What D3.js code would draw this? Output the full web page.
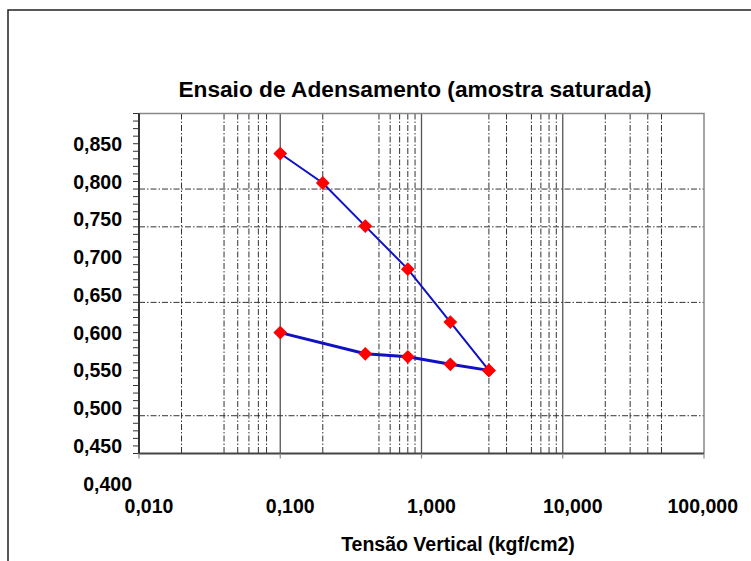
<!DOCTYPE html>
<html>
<head>
<meta charset="utf-8">
<script src="https://cdn.jsdelivr.net/npm/d3@7"></script>
<style>
  body { margin: 0; background: #fff; }
  svg { display: block; font-family: "Liberation Sans", Arial, sans-serif; font-weight: bold; }
</style>
</head>
<body>
<svg id="chart" width="751" height="561"></svg>
<script>
// tensao vertical (kgf/cm2) and indice de vazios
var loadX = [0.1, 0.2, 0.4, 0.8, 1.6, 3.0];
var loadE = [0.837, 0.798, 0.741, 0.684, 0.614, 0.550];
var unloadX = [3.0, 1.6, 0.8, 0.4, 0.1];
var unloadE = [0.550, 0.558, 0.568, 0.572, 0.600];

var yLabels = [0.40, 0.45, 0.50, 0.55, 0.60, 0.65, 0.70, 0.75, 0.80, 0.85];
var xLabels = [0.01, 0.1, 1, 10, 100];
var xMajorGrid = [0.1, 1, 10];
var xMinorGrid = [0.02, 0.04, 0.05, 0.06, 0.07, 0.08, 0.2, 0.5, 0.6, 0.7, 0.8, 0.9, 3, 4, 6, 7, 8, 9, 20, 30, 40, 50];
var yGrid = [0.49, 0.64, 0.74, 0.79];

var svg = d3.select("#chart");
var pLeft = 139, pRight = 704, pTop = 113.5, pBottom = 453.5;

var x = d3.scaleLog().domain([0.01, 100]).range([pLeft, pRight]);
var y = d3.scaleLinear().domain([0.44, 0.89]).range([pBottom, pTop]);

function fmt(v, d) { return v.toFixed(d).replace(".", ","); }

// outer frame (only top and left edges show)
svg.append("path")
    .attr("d", "M8,561 L8,10 L751,10")
    .attr("fill", "none").attr("stroke", "#222").attr("stroke-width", 1.5);

// title
svg.append("text")
    .attr("x", 415).attr("y", 97)
    .attr("text-anchor", "middle")
    .style("font-size", "22.7px")
    .text("Ensaio de Adensamento (amostra saturada)");

// grid
var grid = svg.append("g");
grid.selectAll(".minor").data(xMinorGrid).enter().append("line")
    .attr("x1", function(d) { return x(d); }).attr("x2", function(d) { return x(d); })
    .attr("y1", pTop).attr("y2", pBottom)
    .attr("stroke", "#333").attr("stroke-width", 1)
    .attr("stroke-dasharray", "6,2,1.5,2");
grid.selectAll(".major").data(xMajorGrid).enter().append("line")
    .attr("x1", function(d) { return x(d); }).attr("x2", function(d) { return x(d); })
    .attr("y1", pTop).attr("y2", pBottom)
    .attr("stroke", "#555").attr("stroke-width", 1.3);
grid.selectAll(".hgrid").data(yGrid).enter().append("line")
    .attr("x1", pLeft).attr("x2", pRight)
    .attr("y1", function(d) { return y(d); }).attr("y2", function(d) { return y(d); })
    .attr("stroke", "#333").attr("stroke-width", 1)
    .attr("stroke-dasharray", "6,2,1.5,2");

// plot border
svg.append("path")
    .attr("d", "M" + pLeft + "," + pTop + " L" + pRight + "," + pTop + " L" + pRight + "," + pBottom)
    .attr("fill", "none").attr("stroke", "#888").attr("stroke-width", 1.5);
svg.append("line")
    .attr("x1", pLeft).attr("x2", pRight).attr("y1", pBottom).attr("y2", pBottom)
    .attr("stroke", "#444").attr("stroke-width", 2);
svg.append("line")
    .attr("x1", pLeft).attr("x2", pLeft).attr("y1", pTop).attr("y2", pBottom)
    .attr("stroke", "#333").attr("stroke-width", 2);

// y ticks every 0,01
svg.append("g").selectAll("line").data(d3.range(44, 90).map(function(i) { return i / 100; }))
    .enter().append("line")
    .attr("x1", pLeft - 6).attr("x2", pLeft)
    .attr("y1", function(d) { return y(d); }).attr("y2", function(d) { return y(d); })
    .attr("stroke", "#333").attr("stroke-width", 1);

// x ticks at decades
svg.append("g").selectAll("line").data(xLabels).enter().append("line")
    .attr("x1", function(d) { return x(d); }).attr("x2", function(d) { return x(d); })
    .attr("y1", pBottom).attr("y2", pBottom + 5)
    .attr("stroke", "#888").attr("stroke-width", 1.2);

// y labels
svg.append("g").selectAll("text").data(yLabels).enter().append("text")
    .attr("x", function(d) { return d < 0.44 ? 132 : 122; })
    .attr("y", function(d) { return y(d) + 7; })
    .attr("text-anchor", "end")
    .style("font-size", "19.5px")
    .text(function(d) { return fmt(d, 3); });

// x labels
svg.append("g").selectAll("text").data(xLabels).enter().append("text")
    .attr("y", 513)
    .attr("text-anchor", "middle")
    .style("font-size", "19.5px")
    .text(function(d) { return fmt(d, 3); })
    .attr("x", function(d) {
        var w = this.getComputedTextLength();
        return Math.min(x(d) + 10, 738 - w / 2);
    });

// axis title
svg.append("text")
    .attr("x", 458).attr("y", 551)
    .attr("text-anchor", "middle")
    .style("font-size", "19.5px")
    .text("Tensão Vertical (kgf/cm2)");

// series
var line = d3.line()
    .x(function(d) { return x(d[0]); })
    .y(function(d) { return y(d[1]); });

var loadPts = d3.zip(loadX, loadE);
var unloadPts = d3.zip(unloadX, unloadE);

svg.append("path").datum(loadPts)
    .attr("d", line).attr("fill", "none")
    .attr("stroke", "#1010c4").attr("stroke-width", 2);
svg.append("path").datum(unloadPts)
    .attr("d", line).attr("fill", "none")
    .attr("stroke", "#1010c4").attr("stroke-width", 3);

var diamond = d3.symbol().type(d3.symbolSquare).size(95);
svg.append("g").selectAll("path").data(loadPts.concat(unloadPts)).enter().append("path")
    .attr("d", diamond)
    .attr("transform", function(d) { return "translate(" + x(d[0]) + "," + y(d[1]) + ") rotate(45)"; })
    .attr("fill", "#ff0000");
</script>
</body>
</html>
